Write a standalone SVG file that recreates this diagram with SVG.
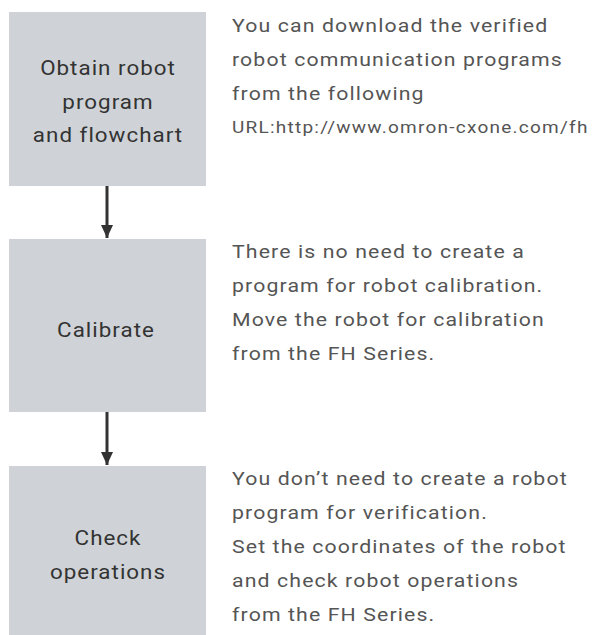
<svg xmlns="http://www.w3.org/2000/svg" width="597" height="635" viewBox="0 0 597 635">
<style>
.box{fill:#cfd3d7}
.bt{font-family:Roboto,"Liberation Sans",sans-serif;font-size:20px;letter-spacing:0.9px;fill:#333333;text-anchor:middle}
.dt{font-family:Roboto,"Liberation Sans",sans-serif;font-size:19px;letter-spacing:1px;fill:#555555}
.url{font-size:17px;letter-spacing:1.1px}
.conn{stroke:#333333;stroke-width:3;fill:none}
</style>
<defs>
<marker id="ah" viewBox="0 0 13 12" refX="13" refY="6" markerWidth="13" markerHeight="12" markerUnits="userSpaceOnUse" orient="auto">
<path d="M0,0 L13,6 L0,12 Z" fill="#333333"/>
</marker>
</defs>
<rect width="597" height="635" fill="#ffffff"/>
<g id="node-obtain">
<rect class="box" x="9" y="12" width="197" height="174"/>
<g transform="translate(108,0) scale(1.12,1)">
<text class="bt" x="0" y="75">Obtain robot</text>
<text class="bt" x="0" y="109">program</text>
<text class="bt" x="0" y="142">and flowchart</text>
</g>
</g>
<g id="node-calibrate">
<rect class="box" x="9" y="239" width="197" height="173"/>
<g transform="translate(106,0) scale(1.12,1)">
<text class="bt" x="0" y="337">Calibrate</text>
</g>
</g>
<g id="node-check">
<rect class="box" x="9" y="466" width="197" height="174"/>
<g transform="translate(108,0) scale(1.12,1)">
<text class="bt" x="0" y="545">Check</text>
<text class="bt" x="0" y="579">operations</text>
</g>
</g>
<g id="desc-obtain" transform="translate(232,0) scale(1.12,1)">
<text class="dt" x="0" y="32">You can download the verified</text>
<text class="dt" x="0" y="66">robot communication programs</text>
<text class="dt" x="0" y="100">from the following</text>
<text class="dt url" x="0" y="133">URL:http://www.omron-cxone.com/fh</text>
</g>
<g id="desc-calibrate" transform="translate(232,0) scale(1.12,1)">
<text class="dt" x="0" y="258">There is no need to create a</text>
<text class="dt" x="0" y="292">program for robot calibration.</text>
<text class="dt" x="0" y="326">Move the robot for calibration</text>
<text class="dt" x="0" y="360">from the FH Series.</text>
</g>
<g id="desc-check" transform="translate(232,0) scale(1.12,1)">
<text class="dt" x="0" y="485">You don’t need to create a robot</text>
<text class="dt" x="0" y="519">program for verification.</text>
<text class="dt" x="0" y="553">Set the coordinates of the robot</text>
<text class="dt" x="0" y="587">and check robot operations</text>
<text class="dt" x="0" y="621">from the FH Series.</text>
</g>
<g id="connectors">
<line class="conn" x1="107" y1="186" x2="107" y2="238" marker-end="url(#ah)"/>
<line class="conn" x1="107" y1="412" x2="107" y2="465" marker-end="url(#ah)"/>
</g>
</svg>
